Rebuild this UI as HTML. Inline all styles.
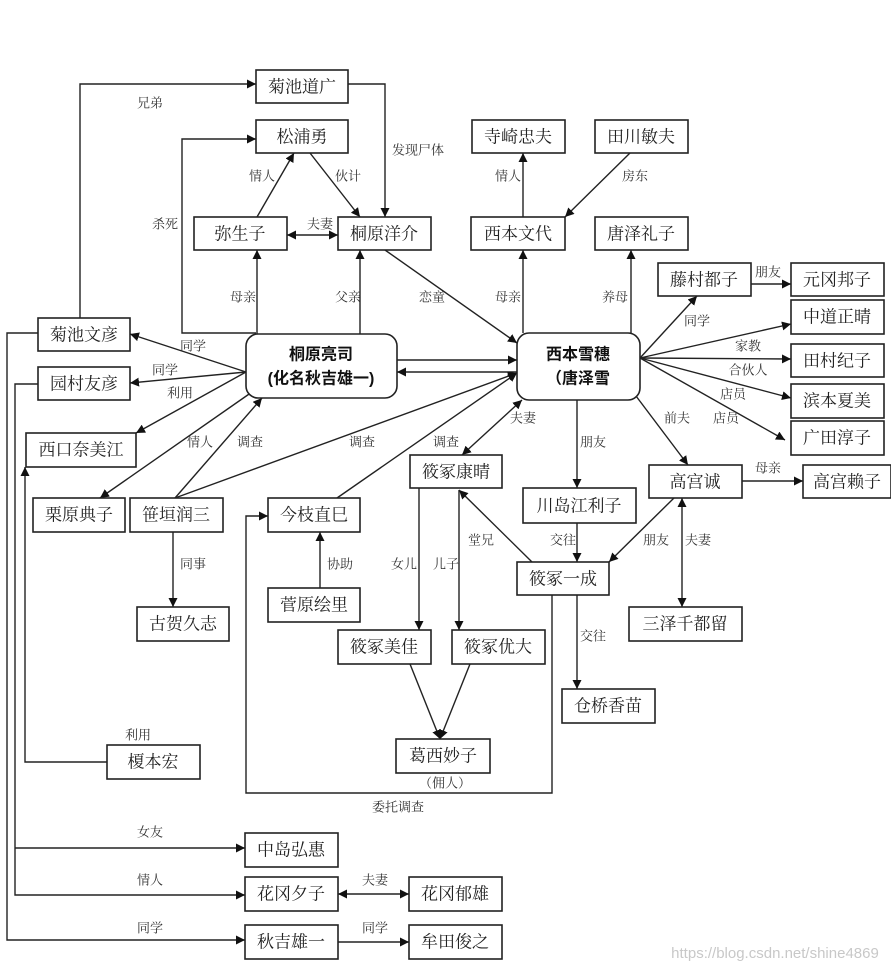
<!DOCTYPE html>
<html><head><meta charset="utf-8"><style>
html,body{margin:0;padding:0;background:#fff;}
svg{display:block;}
text{font-family:"Liberation Serif","Noto Serif CJK SC",serif;fill:#222;}
.b{font-size:17px;text-anchor:middle;dominant-baseline:central;}
.l{font-size:13px;fill:#333;text-anchor:middle;dominant-baseline:central;}
.c{font-family:"Liberation Sans","Noto Sans CJK SC",sans-serif;font-size:16px;font-weight:bold;text-anchor:middle;dominant-baseline:central;fill:#111;}
rect{fill:#fff;stroke:#222;stroke-width:1.6;}
line,polyline{stroke:#222;stroke-width:1.4;fill:none;}
</style></head><body>
<svg width="891" height="974" viewBox="0 0 891 974" xmlns="http://www.w3.org/2000/svg">
<defs>
<marker id="a" viewBox="0 0 10 10" refX="10" refY="5" markerWidth="9" markerHeight="9" markerUnits="userSpaceOnUse" orient="auto-start-reverse"><path d="M0,0 L10,5 L0,10 z" fill="#111"/></marker>
</defs>
<g>
<!-- connectors -->
<polyline points="80,318 80,84 256,84" marker-end="url(#a)"/>
<polyline points="348,84 385,84 385,217" marker-end="url(#a)"/>
<polyline points="256,333 182,333 182,139 256,139" marker-end="url(#a)"/>
<line x1="257" y1="217" x2="294" y2="153" marker-end="url(#a)"/>
<line x1="310" y1="153" x2="360" y2="217" marker-end="url(#a)"/>
<line x1="287" y1="235" x2="338" y2="235" marker-start="url(#a)" marker-end="url(#a)"/>
<line x1="257" y1="334" x2="257" y2="250" marker-end="url(#a)"/>
<line x1="360" y1="334" x2="360" y2="250" marker-end="url(#a)"/>
<line x1="385" y1="250" x2="517" y2="343" marker-end="url(#a)"/>
<line x1="397" y1="360" x2="517" y2="360" marker-end="url(#a)"/>
<line x1="517" y1="372" x2="397" y2="372" marker-end="url(#a)"/>
<line x1="246" y1="372" x2="130" y2="334" marker-end="url(#a)"/>
<line x1="246" y1="372" x2="130" y2="383" marker-end="url(#a)"/>
<line x1="246" y1="372" x2="136" y2="433" marker-end="url(#a)"/>
<line x1="252" y1="392" x2="100" y2="498" marker-end="url(#a)"/>
<line x1="175" y1="498" x2="262" y2="398" marker-end="url(#a)"/>
<line x1="175" y1="498" x2="517" y2="373" marker-end="url(#a)"/>
<line x1="337" y1="498" x2="517" y2="373" marker-end="url(#a)"/>
<line x1="522" y1="400" x2="462" y2="455" marker-start="url(#a)" marker-end="url(#a)"/>
<line x1="577" y1="400" x2="577" y2="488" marker-end="url(#a)"/>
<line x1="636" y1="396" x2="688" y2="465" marker-end="url(#a)"/>
<line x1="523" y1="333" x2="523" y2="250" marker-end="url(#a)"/>
<line x1="523" y1="217" x2="523" y2="153" marker-end="url(#a)"/>
<line x1="630" y1="153" x2="565" y2="217" marker-end="url(#a)"/>
<line x1="631" y1="333" x2="631" y2="250" marker-end="url(#a)"/>
<line x1="640" y1="358" x2="697" y2="296" marker-end="url(#a)"/>
<line x1="640" y1="358" x2="791" y2="324" marker-end="url(#a)"/>
<line x1="640" y1="358" x2="791" y2="359" marker-end="url(#a)"/>
<line x1="640" y1="358" x2="791" y2="398" marker-end="url(#a)"/>
<line x1="640" y1="358" x2="785" y2="440" marker-end="url(#a)"/>
<line x1="751" y1="284" x2="791" y2="284" marker-end="url(#a)"/>
<line x1="742" y1="481" x2="803" y2="481" marker-end="url(#a)"/>
<line x1="682" y1="498" x2="682" y2="607" marker-start="url(#a)" marker-end="url(#a)"/>
<line x1="674" y1="498" x2="609" y2="562" marker-end="url(#a)"/>
<line x1="577" y1="523" x2="577" y2="562" marker-end="url(#a)"/>
<line x1="532" y1="562" x2="459" y2="490" marker-end="url(#a)"/>
<line x1="577" y1="595" x2="577" y2="689" marker-end="url(#a)"/>
<line x1="419" y1="488" x2="419" y2="630" marker-end="url(#a)"/>
<line x1="459" y1="490" x2="459" y2="630" marker-end="url(#a)"/>
<line x1="410" y1="664" x2="440" y2="739" marker-end="url(#a)"/>
<line x1="470" y1="664" x2="440" y2="739" marker-end="url(#a)"/>
<line x1="320" y1="588" x2="320" y2="532" marker-end="url(#a)"/>
<line x1="173" y1="532" x2="173" y2="607" marker-end="url(#a)"/>
<polyline points="552,595 552,793 246,793 246,516 268,516" marker-end="url(#a)"/>
<polyline points="107,762 25,762 25,467" marker-end="url(#a)"/>
<polyline points="38,333 7,333 7,940 245,940" marker-end="url(#a)"/>
<polyline points="38,384 15,384 15,895 245,895" marker-end="url(#a)"/>
<line x1="15" y1="848" x2="245" y2="848" marker-end="url(#a)"/>
<line x1="338" y1="894" x2="409" y2="894" marker-start="url(#a)" marker-end="url(#a)"/>
<line x1="338" y1="942" x2="409" y2="942" marker-end="url(#a)"/>
</g>
<!-- boxes -->
<g>
<rect x="256" y="70" width="92" height="33"/><text class="b" x="302" y="87">菊池道广</text>
<rect x="256" y="120" width="92" height="33"/><text class="b" x="302" y="137">松浦勇</text>
<rect x="194" y="217" width="93" height="33"/><text class="b" x="240" y="234">弥生子</text>
<rect x="338" y="217" width="93" height="33"/><text class="b" x="384" y="234">桐原洋介</text>
<rect x="472" y="120" width="93" height="33"/><text class="b" x="518" y="137">寺崎忠夫</text>
<rect x="595" y="120" width="93" height="33"/><text class="b" x="641" y="137">田川敏夫</text>
<rect x="471" y="217" width="94" height="33"/><text class="b" x="518" y="234">西本文代</text>
<rect x="595" y="217" width="93" height="33"/><text class="b" x="641" y="234">唐泽礼子</text>
<rect x="658" y="263" width="93" height="33"/><text class="b" x="704" y="280">藤村都子</text>
<rect x="791" y="263" width="93" height="33"/><text class="b" x="837" y="280">元冈邦子</text>
<rect x="791" y="300" width="93" height="34"/><text class="b" x="837" y="317">中道正晴</text>
<rect x="791" y="344" width="93" height="33"/><text class="b" x="837" y="361">田村纪子</text>
<rect x="791" y="384" width="93" height="34"/><text class="b" x="837" y="401">滨本夏美</text>
<rect x="791" y="421" width="93" height="34"/><text class="b" x="837" y="438">广田淳子</text>
<rect x="649" y="465" width="93" height="33"/><text class="b" x="695" y="482">高宫诚</text>
<rect x="803" y="465" width="88" height="33"/><text class="b" x="847" y="482">高宫赖子</text>
<rect x="246" y="334" width="151" height="64" rx="12"/><text class="c" x="321" y="355">桐原亮司</text><text class="c" x="321" y="379">(化名秋吉雄一)</text>
<rect x="517" y="333" width="123" height="67" rx="12"/><text class="c" x="578" y="355">西本雪穗</text><text class="c" x="578" y="379">（唐泽雪</text>
<rect x="38" y="318" width="92" height="33"/><text class="b" x="84" y="335">菊池文彦</text>
<rect x="38" y="367" width="92" height="33"/><text class="b" x="84" y="384">园村友彦</text>
<rect x="26" y="433" width="110" height="34"/><text class="b" x="81" y="450">西口奈美江</text>
<rect x="33" y="498" width="92" height="34"/><text class="b" x="79" y="515">栗原典子</text>
<rect x="130" y="498" width="93" height="34"/><text class="b" x="176" y="515">笹垣润三</text>
<rect x="268" y="498" width="92" height="34"/><text class="b" x="314" y="515">今枝直巳</text>
<rect x="410" y="455" width="92" height="33"/><text class="b" x="456" y="472">筱冢康晴</text>
<rect x="523" y="488" width="113" height="35"/><text class="b" x="579" y="506">川岛江利子</text>
<rect x="517" y="562" width="92" height="33"/><text class="b" x="563" y="579">筱冢一成</text>
<rect x="629" y="607" width="113" height="34"/><text class="b" x="685" y="624">三泽千都留</text>
<rect x="137" y="607" width="92" height="34"/><text class="b" x="183" y="624">古贺久志</text>
<rect x="268" y="588" width="92" height="34"/><text class="b" x="314" y="605">菅原绘里</text>
<rect x="338" y="630" width="93" height="34"/><text class="b" x="384" y="647">筱冢美佳</text>
<rect x="452" y="630" width="93" height="34"/><text class="b" x="498" y="647">筱冢优大</text>
<rect x="562" y="689" width="93" height="34"/><text class="b" x="608" y="706">仓桥香苗</text>
<rect x="396" y="739" width="94" height="34"/><text class="b" x="443" y="756">葛西妙子</text>
<rect x="107" y="745" width="93" height="34"/><text class="b" x="153" y="762">榎本宏</text>
<rect x="245" y="833" width="93" height="34"/><text class="b" x="291" y="850">中岛弘惠</text>
<rect x="245" y="877" width="93" height="34"/><text class="b" x="291" y="894">花冈夕子</text>
<rect x="409" y="877" width="93" height="34"/><text class="b" x="455" y="894">花冈郁雄</text>
<rect x="245" y="925" width="93" height="34"/><text class="b" x="291" y="942">秋吉雄一</text>
<rect x="409" y="925" width="93" height="34"/><text class="b" x="455" y="942">牟田俊之</text>
</g>
<!-- labels -->
<g>
<text class="l" x="150" y="103">兄弟</text>
<text class="l" x="418" y="150">发现尸体</text>
<text class="l" x="165" y="224">杀死</text>
<text class="l" x="262" y="176">情人</text>
<text class="l" x="348" y="176">伙计</text>
<text class="l" x="320" y="224">夫妻</text>
<text class="l" x="243" y="297">母亲</text>
<text class="l" x="348" y="297">父亲</text>
<text class="l" x="432" y="297">恋童</text>
<text class="l" x="193" y="346">同学</text>
<text class="l" x="165" y="370">同学</text>
<text class="l" x="180" y="393">利用</text>
<text class="l" x="200" y="442">情人</text>
<text class="l" x="250" y="442">调查</text>
<text class="l" x="362" y="442">调查</text>
<text class="l" x="446" y="442">调查</text>
<text class="l" x="523" y="418">夫妻</text>
<text class="l" x="593" y="442">朋友</text>
<text class="l" x="677" y="418">前夫</text>
<text class="l" x="508" y="297">母亲</text>
<text class="l" x="508" y="176">情人</text>
<text class="l" x="635" y="176">房东</text>
<text class="l" x="615" y="297">养母</text>
<text class="l" x="697" y="321">同学</text>
<text class="l" x="748" y="346">家教</text>
<text class="l" x="748" y="370">合伙人</text>
<text class="l" x="733" y="394">店员</text>
<text class="l" x="726" y="418">店员</text>
<text class="l" x="768" y="272">朋友</text>
<text class="l" x="768" y="468">母亲</text>
<text class="l" x="698" y="540">夫妻</text>
<text class="l" x="656" y="540">朋友</text>
<text class="l" x="563" y="540">交往</text>
<text class="l" x="481" y="540">堂兄</text>
<text class="l" x="593" y="636">交往</text>
<text class="l" x="404" y="564">女儿</text>
<text class="l" x="446" y="564">儿子</text>
<text class="l" x="340" y="564">协助</text>
<text class="l" x="193" y="564">同事</text>
<text class="l" x="445" y="783">（佣人）</text>
<text class="l" x="398" y="807">委托调查</text>
<text class="l" x="138" y="735">利用</text>
<text class="l" x="150" y="832">女友</text>
<text class="l" x="150" y="880">情人</text>
<text class="l" x="150" y="928">同学</text>
<text class="l" x="375" y="880">夫妻</text>
<text class="l" x="375" y="928">同学</text>
<text x="775" y="958" style="font-family:'Liberation Sans',sans-serif;font-size:15px;fill:#c8c8c8;text-anchor:middle;">https://blog.csdn.net/shine4869</text>
</g>
</svg>
</body></html>
